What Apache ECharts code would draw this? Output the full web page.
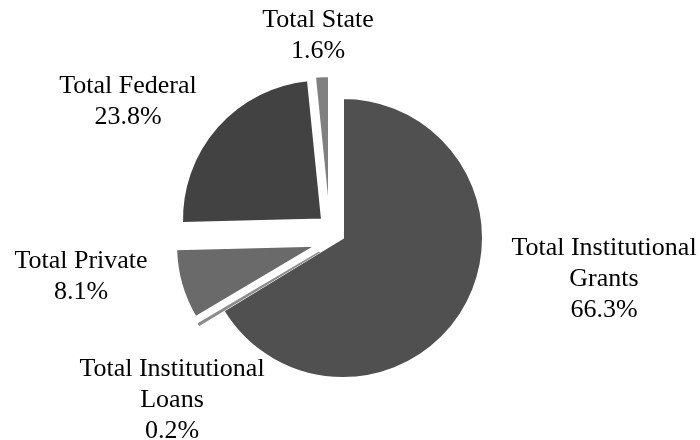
<!DOCTYPE html>
<html>
<head>
<meta charset="utf-8">
<script src="https://cdn.jsdelivr.net/npm/echarts@6/dist/echarts.min.js"></script>
<style>
  html, body { margin: 0; padding: 0; background: #fff; }
  #aidChart { width: 700px; height: 440px; }
</style>
</head>
<body>
<div id="aidChart"></div>
<script>
// 数据
const sourceNames = ["Total Institutional\nGrants", "Total Institutional\nLoans", "Total Private", "Total Federal", "Total State"];
const sharePct = [66.3, 0.2, 8.1, 23.8, 1.6];
const exploded = [false, true, true, true, false];

// 样式
const sliceColors = ["#505050", "#8c8c8c", "#6a6a6a", "#424242", "#808080"];
const labelCenters = [[604, 279], [172, 400], [81, 277], [128, 102], [318, 36]];
const STATE_IDX = 4;

const chart = echarts.init(document.getElementById("aidChart"));

// 主饼图（州份额单独画，位置偏移不同）
const mainData = sourceNames.map((name, i) => {
  if (i === STATE_IDX) {
    return { name, value: sharePct[i], itemStyle: { color: "transparent", borderWidth: 0 } };
  }
  const item = { name, value: sharePct[i], selected: exploded[i], itemStyle: { color: sliceColors[i] } };
  if (i === 1) item.itemStyle = { color: sliceColors[i], borderColor: sliceColors[i], borderWidth: 1.5 };
  return item;
});

const stateData = sourceNames.map((name, i) => ({
  name,
  value: sharePct[i],
  itemStyle: i === STATE_IDX ? { color: sliceColors[i], borderColor: "#fff", borderWidth: 2 } : { color: "transparent", borderWidth: 0 }
}));

const option = {
  animation: false,
  series: [
    {
      type: "pie",
      center: [343, 238],
      radius: 140,
      startAngle: 90,
      selectedMode: "multiple",
      selectedOffset: 28,
      silent: true,
      itemStyle: { borderColor: "#fff", borderWidth: 2 },
      label: { show: false },
      labelLine: { show: false },
      data: mainData
    },
    {
      type: "pie",
      center: [329, 216],
      radius: 140,
      startAngle: 90,
      silent: true,
      label: { show: false },
      labelLine: { show: false },
      data: stateData
    }
  ],
  graphic: sourceNames.map((name, i) => ({
    type: "text",
    x: labelCenters[i][0],
    y: labelCenters[i][1],
    style: {
      text: name + "\n" + sharePct[i].toFixed(1) + "%",
      font: '26px "Liberation Serif"',
      lineHeight: 31,
      fill: "#000",
      align: "center",
      verticalAlign: "middle"
    }
  }))
};

chart.setOption(option);
</script>
</body>
</html>
